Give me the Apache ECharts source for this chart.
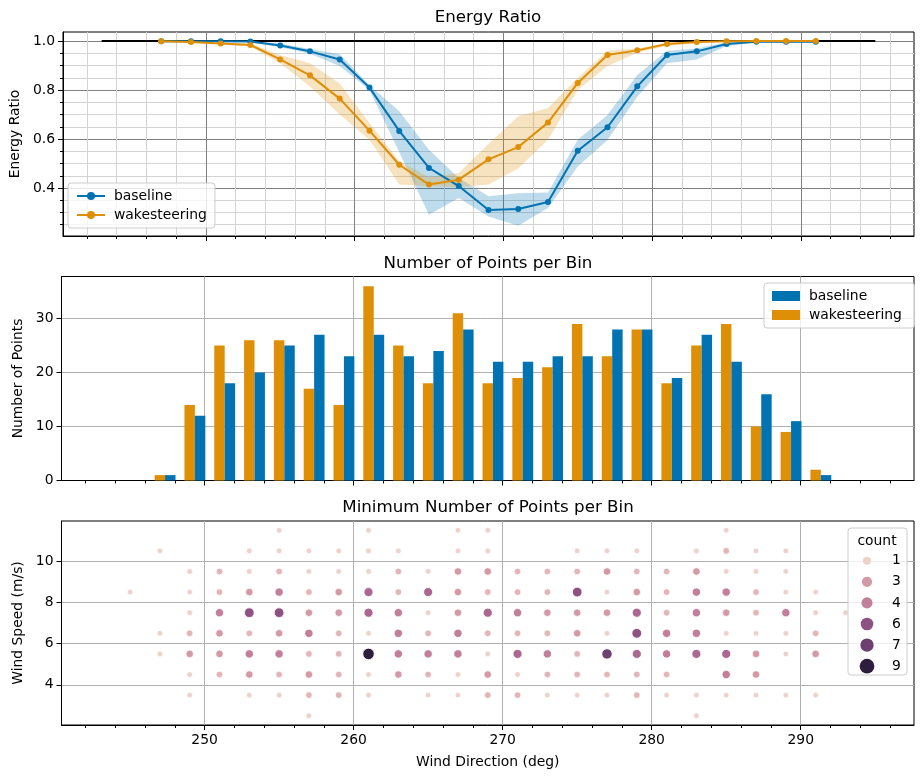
<!DOCTYPE html>
<html><head><meta charset="utf-8">
<script src="https://cdn.jsdelivr.net/npm/echarts@6/dist/echarts.min.js"></script>
<style>html,body{margin:0;padding:0;background:#fff}#c{width:923px;height:778px}</style>
</head><body><div id="c"></div>
<script>
// ---------- data ----------
const windDirBins = [247,249,251,253,255,257,259,261,263,265,267,269,271,273,275,277,279,281,283,285,287,289,291];
const baselineRatio = [0.999,0.999,0.999,0.998,0.982,0.958,0.925,0.81,0.633,0.482,0.408,0.31,0.314,0.343,0.552,0.648,0.815,0.943,0.958,0.988,0.997,0.997,0.997];
const baselineLower = [0.997,0.997,0.997,0.995,0.975,0.948,0.898,0.80,0.547,0.291,0.359,0.284,0.246,0.318,0.488,0.596,0.773,0.909,0.925,0.98,0.994,0.994,0.994];
const baselineUpper = [1.0,1.0,1.0,1.0,0.99,0.968,0.946,0.82,0.713,0.556,0.441,0.366,0.379,0.382,0.597,0.698,0.861,0.96,0.97,0.995,0.999,0.999,0.999];
const wakeRatio = [0.999,0.996,0.99,0.984,0.925,0.86,0.765,0.634,0.495,0.414,0.434,0.517,0.567,0.667,0.829,0.943,0.962,0.988,0.996,0.999,1.0,1.0,1.0];
const wakeLower = [0.997,0.993,0.986,0.978,0.909,0.814,0.70,0.597,0.414,0.407,0.404,0.414,0.48,0.597,0.80,0.898,0.952,0.98,0.992,0.997,0.999,0.999,0.999];
const wakeUpper = [1.0,0.999,0.994,0.99,0.943,0.909,0.827,0.665,0.509,0.445,0.461,0.58,0.693,0.727,0.85,0.96,0.97,0.993,0.999,1.0,1.0,1.0,1.0];
const refLineX = [243,295];
const refLineY = [1,1];

const baselineCounts = [1,12,18,20,25,27,23,27,23,24,28,22,22,23,23,28,28,19,27,22,16,11,1];
const wakeCounts     = [1,14,25,26,26,17,14,36,25,18,31,18,19,21,29,23,28,18,25,29,10,9,2];

const windDirCols = [245,247,249,251,253,255,257,259,261,263,265,267,269,271,273,275,277,279,281,283,285,287,289,291,293];
const windSpeedRows = [11.5,10.5,9.5,8.5,7.5,6.5,5.5,4.5,3.5,2.5];
const minCountGrid = [
  [0,0,0,0,0,1,0,0,1,0,0,1,1,0,0,0,0,0,0,0,1,0,0,0,0],
  [0,1,0,0,1,1,1,1,1,1,0,1,1,0,0,1,1,1,0,1,2,1,1,0,0],
  [0,0,1,2,1,2,1,1,1,2,1,3,3,2,2,2,3,2,2,3,1,1,1,0,0],
  [1,0,1,2,3,4,2,3,5,2,5,3,2,2,2,6,1,3,2,4,4,2,1,1,0],
  [0,0,1,4,6,6,3,3,5,4,1,3,5,4,3,3,3,5,2,4,3,2,4,1,1],
  [0,1,2,3,2,3,4,2,1,4,2,4,2,2,2,3,1,6,4,4,1,1,1,2,0],
  [0,1,3,3,4,4,2,2,9,4,4,4,1,5,4,2,7,5,4,5,5,3,1,3,0],
  [0,0,1,2,3,2,3,2,1,3,2,1,3,1,2,2,2,2,2,0,4,3,0,0,0],
  [0,0,1,0,1,1,2,2,1,0,1,1,2,2,1,1,1,2,1,1,1,1,1,1,0],
  [0,0,0,0,0,0,1,0,0,0,0,0,0,0,0,0,0,0,0,1,0,0,0,0,0]
];
const countLegendValues = [1,3,4,6,7,9];
const xTickValues = [250,260,270,280,290];

// ---------- styling helpers ----------
const BLUE = '#0173b2', ORANGE = '#de8f05';
const FONT = 'DejaVu Sans';
const CMIN = 1, CMAX = 9;
function countColor(c){
  const t = (c - CMIN) / (CMAX - CMIN);
  const x = 0.85 - 0.7 * t;
  const a = 0.4 * x * (1 - x);
  const phi = 2 * Math.PI * 0.4 * x;
  const cs = Math.cos(phi), sn = Math.sin(phi);
  const cl = v => Math.round(Math.max(0, Math.min(1, v)) * 255);
  const r = x + a * (-0.14861 * cs + 1.78277 * sn);
  const g = x + a * (-0.29227 * cs - 0.90649 * sn);
  const b = x + a * (1.97294 * cs);
  return 'rgb(' + cl(r) + ',' + cl(g) + ',' + cl(b) + ')';
}
function countSize(c){
  const area = 18 + 54 * (c - CMIN) / (CMAX - CMIN);
  return 1.35 * Math.sqrt(area);
}

const scatterData = [];
windSpeedRows.forEach((ws, r) => {
  windDirCols.forEach((wd, k) => {
    const c = minCountGrid[r][k];
    if (c > 0) scatterData.push([wd, ws, c]);
  });
});

function bandSeries(name, lower, upper, fill){
  return {
    type: 'custom', name: name + '_band', xAxisIndex: 0, yAxisIndex: 0, z: 1, silent: true,
    data: windDirBins.map((x, i) => [x, lower[i], upper[i]]),
    encode: {x: 0, y: [1, 2]},
    renderItem: function(params, api){
      if (params.dataIndex !== 0) return null;
      const pts = [];
      for (let i = 0; i < windDirBins.length; i++) pts.push(api.coord([windDirBins[i], upper[i]]));
      for (let i = windDirBins.length - 1; i >= 0; i--) pts.push(api.coord([windDirBins[i], lower[i]]));
      return {type: 'polygon', shape: {points: pts}, style: {fill: fill, stroke: null}};
    }
  };
}
function barSeries(name, counts, color, offset){
  return {
    type: 'custom', name: name, xAxisIndex: 1, yAxisIndex: 1, z: 2,
    itemStyle: {color: color},
    data: windDirBins.map((x, i) => [x, counts[i]]),
    encode: {x: 0, y: 1},
    renderItem: function(params, api){
      const x = api.value(0), v = api.value(1);
      const p0 = api.coord([x - 0.35 + offset, v]);
      const p1 = api.coord([x + 0.35 + offset, 0]);
      return {type: 'rect', shape: {x: p0[0], y: p0[1], width: p1[0] - p0[0], height: p1[1] - p0[1]}, style: {fill: color}};
    }
  };
}

const isMult = (v, m) => Math.abs(v / m - Math.round(v / m)) < 1e-6;
const tickFont = {fontFamily: FONT, fontSize: 13.9, color: '#000'};
const XMIN = 240.4, XMAX = 297.6;

function xAxisCfg(gi, showLabels, minorGrid){
  return {
    type: 'value', gridIndex: gi, min: XMIN, max: XMAX, splitNumber: 5,
    axisLine: {show: true, onZero: false, lineStyle: {color: '#000', width: 1}},
    axisTick: {show: true, length: 5, customValues: xTickValues, lineStyle: {color: '#000', width: 1}},
    minorTick: {show: true, splitNumber: 5, length: 3, lineStyle: {color: '#000', width: 1}},
    axisLabel: {show: showLabels, margin: 8, ...tickFont, formatter: v => isMult(v, 10) ? String(Math.round(v)) : ''},
    splitLine: {show: true, lineStyle: {color: minorGrid ? '#808080' : '#b0b0b0', width: 1}},
    minorSplitLine: {show: minorGrid, lineStyle: {color: '#d3d3d3', width: 1}},
    name: showLabels ? 'Wind Direction (deg)' : '', nameLocation: 'middle', nameGap: 30,
    nameTextStyle: {fontFamily: FONT, fontSize: 13.9, color: '#000'}
  };
}

const option = {
  animation: false,
  backgroundColor: '#fff',
  textStyle: {fontFamily: FONT},
  grid: [
    {left: 61.5, top: 32, width: 852.5, height: 204, show: true, borderColor: '#000', borderWidth: 1},
    {left: 61.5, top: 276.5, width: 852.5, height: 204, show: true, borderColor: '#000', borderWidth: 1},
    {left: 61.5, top: 521, width: 852.5, height: 204, show: true, borderColor: '#000', borderWidth: 1}
  ],
  xAxis: [xAxisCfg(0, false, true), xAxisCfg(1, false, false), xAxisCfg(2, true, false)],
  yAxis: [
    {type: 'value', gridIndex: 0, min: 0.204, max: 1.037, splitNumber: 5,
     axisLine: {show: true, lineStyle: {color: '#000'}},
     axisTick: {show: true, length: 5, customValues: [0.4, 0.6, 0.8, 1.0], lineStyle: {color: '#000'}},
     minorTick: {show: true, splitNumber: 4, length: 3, lineStyle: {color: '#000'}},
     axisLabel: {...tickFont, margin: 8, formatter: v => isMult(v, 0.2) ? v.toFixed(1) : ''},
     splitLine: {show: true, lineStyle: {color: '#808080', width: 1}},
     minorSplitLine: {show: true, lineStyle: {color: '#d3d3d3', width: 1}},
     name: 'Energy Ratio', nameLocation: 'middle', nameGap: 38,
     nameTextStyle: {fontFamily: FONT, fontSize: 13.9, color: '#000'}},
    {type: 'value', gridIndex: 1, min: 0, max: 37.8, interval: 10,
     axisLine: {show: true, lineStyle: {color: '#000'}},
     axisTick: {show: true, length: 5, customValues: [0, 10, 20, 30], lineStyle: {color: '#000'}},
     axisLabel: {...tickFont, margin: 8, formatter: v => isMult(v, 10) ? String(Math.round(v)) : ''},
     splitLine: {show: true, lineStyle: {color: '#b0b0b0', width: 1}},
     name: 'Number of Points', nameLocation: 'middle', nameGap: 32,
     nameTextStyle: {fontFamily: FONT, fontSize: 13.9, color: '#000'}},
    {type: 'value', gridIndex: 2, min: 2.05, max: 11.95, splitNumber: 5,
     axisLine: {show: true, lineStyle: {color: '#000'}},
     axisTick: {show: true, length: 5, customValues: [4, 6, 8, 10], lineStyle: {color: '#000'}},
     axisLabel: {...tickFont, margin: 8, formatter: v => isMult(v, 2) ? String(Math.round(v)) : ''},
     splitLine: {show: true, lineStyle: {color: '#b0b0b0', width: 1}},
     name: 'Wind Speed (m/s)', nameLocation: 'middle', nameGap: 32,
     nameTextStyle: {fontFamily: FONT, fontSize: 13.9, color: '#000'}}
  ],
  legend: [
    {left: 68, top: 183, orient: 'vertical', data: ['baseline', 'wakesteering'],
     itemWidth: 28, itemHeight: 10, itemGap: 5, padding: [6, 8],
     backgroundColor: 'rgba(255,255,255,0.8)', borderColor: '#cccccc', borderWidth: 1, borderRadius: 3,
     textStyle: {fontFamily: FONT, fontSize: 13.9, color: '#000', padding: [0, 0, 0, 4]}, selectedMode: false},
    {left: 764, top: 283, orient: 'vertical', data: [{name: 'baseline ', icon: 'rect'}, {name: 'wakesteering ', icon: 'rect'}],
     itemWidth: 28, itemHeight: 10, itemGap: 5, padding: [6, 8],
     backgroundColor: 'rgba(255,255,255,0.8)', borderColor: '#cccccc', borderWidth: 1, borderRadius: 3,
     textStyle: {fontFamily: FONT, fontSize: 13.9, color: '#000', padding: [0, 0, 0, 4]}, selectedMode: false}
  ].concat(countLegendValues.map((v, i) => {
    const d = countSize(v) * 1.15 + 1.5;
    return {left: 867 - d / 2, top: 560.7 + i * 21.1 - 8, orient: 'vertical', data: [{name: String(v), icon: 'circle'}],
      itemWidth: d, itemHeight: d, padding: 0, z: 6, selectedMode: false,
      itemStyle: {borderWidth: 0},
      textStyle: {fontFamily: FONT, fontSize: 13.9, color: '#000', lineHeight: 16, padding: [0, 0, 0, Math.max(0, 892 - (867 + d / 2 + 5))]}};
  })),
  graphic: [
    {type: 'text', x: 488, y: 18, z: 10, style: {text: 'Energy Ratio', font: '16.7px "DejaVu Sans"', fill: '#000', align: 'center', verticalAlign: 'middle', textAlign: 'center', textVerticalAlign: 'middle'}},
    {type: 'text', x: 488, y: 264, z: 10, style: {text: 'Number of Points per Bin', font: '16.7px "DejaVu Sans"', fill: '#000', align: 'center', verticalAlign: 'middle', textAlign: 'center', textVerticalAlign: 'middle'}},
    {type: 'text', x: 488, y: 508, z: 10, style: {text: 'Minimum Number of Points per Bin', font: '16.7px "DejaVu Sans"', fill: '#000', align: 'center', verticalAlign: 'middle', textAlign: 'center', textVerticalAlign: 'middle'}},
    {type: 'rect', z: 5, shape: {x: 848, y: 528, width: 59, height: 147, r: 3}, style: {fill: 'rgba(255,255,255,0.8)', stroke: '#cccccc', lineWidth: 1}},
    {type: 'text', x: 877, y: 541, z: 6, style: {text: 'count', font: '13.9px "DejaVu Sans"', fill: '#000', align: 'center', verticalAlign: 'middle', textAlign: 'center', textVerticalAlign: 'middle'}}
  ],
  series: [
    bandSeries('baseline', baselineLower, baselineUpper, 'rgba(1,115,178,0.25)'),
    bandSeries('wakesteering', wakeLower, wakeUpper, 'rgba(222,143,5,0.25)'),
    {type: 'line', name: 'reference', xAxisIndex: 0, yAxisIndex: 0, z: 3, silent: true,
     data: refLineX.map((x, i) => [x, refLineY[i]]), showSymbol: false, symbol: 'none',
     lineStyle: {color: '#000', width: 2}},
    {type: 'line', name: 'baseline', xAxisIndex: 0, yAxisIndex: 0, z: 4,
     data: windDirBins.map((x, i) => [x, baselineRatio[i]]),
     symbol: 'circle', symbolSize: 6, showAllSymbol: true,
     itemStyle: {color: BLUE}, lineStyle: {color: BLUE, width: 2}},
    {type: 'line', name: 'wakesteering', xAxisIndex: 0, yAxisIndex: 0, z: 5,
     data: windDirBins.map((x, i) => [x, wakeRatio[i]]),
     symbol: 'circle', symbolSize: 6, showAllSymbol: true,
     itemStyle: {color: ORANGE}, lineStyle: {color: ORANGE, width: 2}},
    barSeries('wakesteering ', wakeCounts, ORANGE, 0),
    barSeries('baseline ', baselineCounts, BLUE, 0.7),
    {type: 'scatter', name: 'count', xAxisIndex: 2, yAxisIndex: 2, z: 3,
     data: scatterData,
     symbolSize: v => countSize(v[2]),
     itemStyle: {color: p => countColor(p.value[2]), borderColor: '#fff', borderWidth: 0.8, opacity: 1}}
  ].concat(countLegendValues.map(v => ({
    type: 'scatter', name: String(v), xAxisIndex: 2, yAxisIndex: 2, data: [],
    itemStyle: {color: countColor(v), opacity: 1}
  })))
};

const chart = echarts.init(document.getElementById('c'), null, {renderer: 'canvas'});
chart.setOption(option);
</script>
</body></html>
